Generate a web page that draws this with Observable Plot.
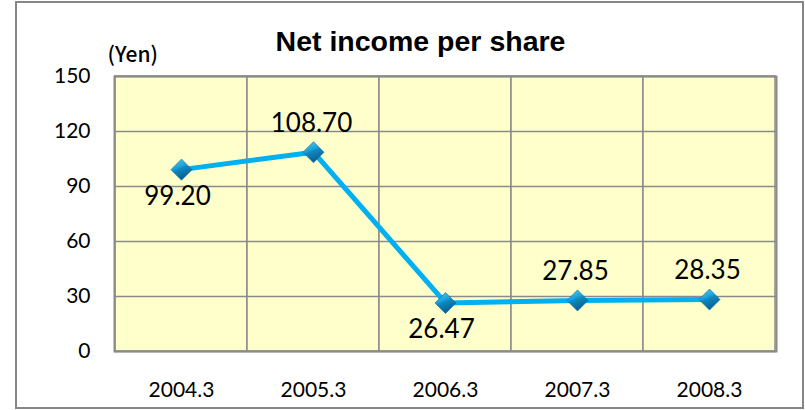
<!DOCTYPE html>
<html>
<head>
<meta charset="utf-8">
<script src="https://cdn.jsdelivr.net/npm/d3@7"></script>
<script src="https://cdn.jsdelivr.net/npm/@observablehq/plot@0.6"></script>
<style>
  html, body { margin: 0; padding: 0; background: #fff; }
</style>
</head>
<body>
<div id="chart"></div>
<script>
// ---- data ----
const categories = ["2004.3", "2005.3", "2006.3", "2007.3", "2008.3"];
const values = [99.20, 108.70, 26.47, 27.85, 28.35];
const yTicks = [0, 30, 60, 90, 120, 150];
const labelsBelow = ["2004.3", "2006.3"];
const titleText = "Net income per share";
const unitText = "(Yen)";

const data = categories.map((c, i) => ({ period: c, value: values[i] }));
const fmt = d3.format(".2f");

const chart = Plot.plot({
  width: 805,
  height: 410,
  marginLeft: 114,
  marginRight: 29,
  marginTop: 76,
  marginBottom: 59,
  style: { fontFamily: "Lato, 'Open Sans', sans-serif", background: "#fff", color: "#000", overflow: "visible" },
  x: { type: "band", domain: categories, padding: 0, label: null },
  y: { domain: [0, 150], label: null },
  marks: [
    Plot.cell(categories, { x: d => d, fill: "#ffffcc", stroke: "#8a8a8a", strokeWidth: 1.5, inset: 0 }),
    Plot.ruleY(yTicks, { stroke: "#8a8a8a", strokeWidth: 1.5 }),
    Plot.frame({ stroke: "#8a8a8a", strokeWidth: 2 }),
    Plot.axisY(yTicks, { tickSize: 0, tickPadding: 24, fontSize: 21, label: null }),
    Plot.axisX({ tickSize: 0, tickPadding: 31, fontSize: 21, label: null }),
    Plot.line(data, { x: "period", y: "value", stroke: "#00b0f0", strokeWidth: 5 }),
    Plot.dot(data, { x: "period", y: "value", symbol: "diamond2", r: 9.5, fill: "url(#mk)", stroke: "#0a6d9e", strokeWidth: 0.6 }),
    Plot.text(data.filter(d => labelsBelow.includes(d.period)), {
      x: "period", y: "value", text: d => fmt(d.value), fontSize: 26, dy: 27, dx: -4, lineAnchor: "middle", fill: "#000"
    }),
    Plot.text(data.filter(d => !labelsBelow.includes(d.period)), {
      x: "period", y: "value", text: d => fmt(d.value), fontSize: 26, dy: -29, dx: -2, lineAnchor: "middle", fill: "#000"
    }),
    Plot.text([titleText], {
      frameAnchor: "top", dx: -25, dy: -35, text: d => d, fontSize: 28.5, fontWeight: "bold",
      fontFamily: "'Liberation Sans', Arial, sans-serif", lineAnchor: "middle", fill: "#000"
    }),
    Plot.text([unitText], {
      frameAnchor: "top-left", textAnchor: "start", dx: -7, dy: -21, text: d => d, fontSize: 21,
      fontFamily: "'Noto Sans CJK JP', sans-serif", fontWeight: 500, lineAnchor: "middle", fill: "#000",
      style: "letter-spacing:2px"
    })
  ]
});

// gradient for diamond markers and outer border
const svg = d3.select(chart);
const defs = svg.insert("defs", ":first-child");
const g = defs.append("linearGradient").attr("id", "mk")
  .attr("x1", 0).attr("y1", 0).attr("x2", 0.4).attr("y2", 1);
g.append("stop").attr("offset", "0%").attr("stop-color", "#5cc8f2");
g.append("stop").attr("offset", "45%").attr("stop-color", "#1aa3dc");
g.append("stop").attr("offset", "55%").attr("stop-color", "#0f88c2");
g.append("stop").attr("offset", "100%").attr("stop-color", "#0a5f8f");

svg.append("rect")
  .attr("x", 16).attr("y", 2).attr("width", 787).attr("height", 406)
  .attr("fill", "none").attr("stroke", "#868686").attr("stroke-width", 2);

document.getElementById("chart").appendChild(chart);
</script>
</body>
</html>
